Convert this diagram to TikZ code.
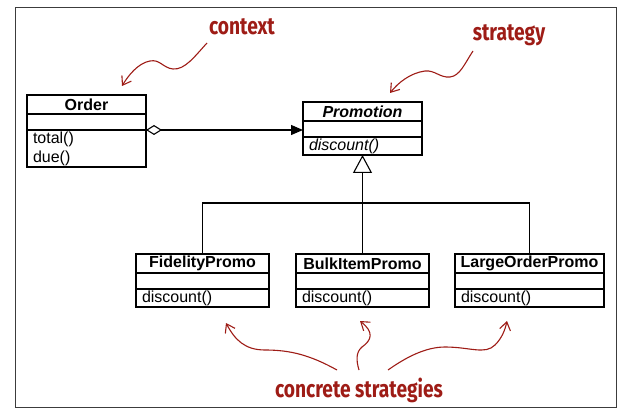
\documentclass[tikz,border=0pt]{standalone}
\usepackage{fontspec}
\setmainfont{Liberation Sans}
\newfontfamily\handfont[FakeStretch=0.8]{Fira Sans}
\usetikzlibrary{arrows.meta}
\definecolor{annotred}{RGB}{158,28,22}
\definecolor{framegray}{RGB}{60,60,60}
\tikzset{
  part/.style={draw, line width=1.1pt, inner sep=0pt, outer sep=0pt, anchor=north},
  annot/.style={draw=annotred, line width=1.1pt, -{Straight Barb[length=8pt,width=11pt]}},
  annottext/.style={text=annotred, font=\handfont\bfseries\fontsize{24}{26}\selectfont, inner sep=0pt},
  umlfont/.style={font=\fontsize{16}{19}\selectfont}
}
\newcommand\umlclass[7]{%
  \node[part, umlfont, minimum width=#4pt, minimum height=19pt] (#1) at (#2,#3) {#5};
  \node[part, minimum width=#4pt, minimum height=16pt] (#1-a) at (#1.south) {};
  \node[part, umlfont, minimum width=#4pt, minimum height=#7pt, text width=\dimexpr#4pt-12pt\relax, align=left] (#1-m) at (#1-a.south) {#6};
}
\begin{document}
\begin{tikzpicture}[x=1pt, y=-1pt]
  \useasboundingbox (0,0) rectangle (624,414);
  \draw[framegray, line width=1pt] (15,8) rectangle (616,407);

  \umlclass{order}{86.5}{95}{119}{\bfseries Order}{total()\\due()}{37}
  \umlclass{promo}{362.5}{102}{119}{\bfseries\itshape Promotion}{\itshape discount()}{18}
  \umlclass{fid}{202.5}{254}{133}{\bfseries FidelityPromo}{discount()}{18}
  \umlclass{bulk}{362.5}{254}{133}{\bfseries BulkItemPromo}{discount()}{18}
  \umlclass{large}{529.5}{254}{149}{\bfseries LargeOrderPromo}{discount()}{18}

  % association with aggregation
  \draw[line width=1.1pt, {Diamond[open,length=16pt,width=10pt]}-{Triangle[length=12pt,width=10pt]}]
    (order-a.south east) -- (promo-a.west |- order-a.south east);

  % generalization
  \coordinate (bus) at (0,203);
  \draw[line width=1.1pt, -{Triangle[open,length=18pt,width=19pt]}] (bulk.north) -- (promo-m.south);
  \draw[line width=1.1pt] (fid.north) |- (large.north |- bus) -- (large.north);

  % annotations
  \node[annottext] (ctx) at (242,27) {context};
  \node[annottext] (strat) at (509,35) {strategy};
  \node[annottext] (conc) at (359,390) {concrete strategies};

  \coordinate (ctxS) at (207,43);
  \coordinate (ctxE) at (122,86);
  \draw[annot] (ctxS) .. controls (195,56) and (185,70) .. (173,69)
     .. controls (163,68) and (160,59) .. (150,61)
     .. controls (138,63) and (128,76) .. (ctxE);

  \coordinate (stS) at (473,51);
  \coordinate (stE) at (390,93);
  \draw[annot] (stS) .. controls (465,63) and (460,76) .. (450,77)
     .. controls (440,78) and (435,70) .. (425,71)
     .. controls (410,73) and (398,83) .. (stE);

  \coordinate (c1S) at (337,370);
  \coordinate (c1E) at (226,323);
  \draw[annot] (c1S) .. controls (310,355) and (290,350) .. (265,350)
     .. controls (245,350) and (235,340) .. (c1E);

  \coordinate (c2S) at (359,370);
  \coordinate (c2E) at (360,321);
  \draw[annot] (c2S) .. controls (356,360) and (356,352) .. (362,347)
     .. controls (372,340) and (374,332) .. (c2E);

  \coordinate (c3S) at (388,370);
  \coordinate (c3E) at (507,321);
  \draw[annot] (c3S) .. controls (405,358) and (425,347) .. (445,347)
     .. controls (470,347) and (485,355) .. (495,345)
     .. controls (502,338) and (505,330) .. (c3E);
\end{tikzpicture}
\end{document}
